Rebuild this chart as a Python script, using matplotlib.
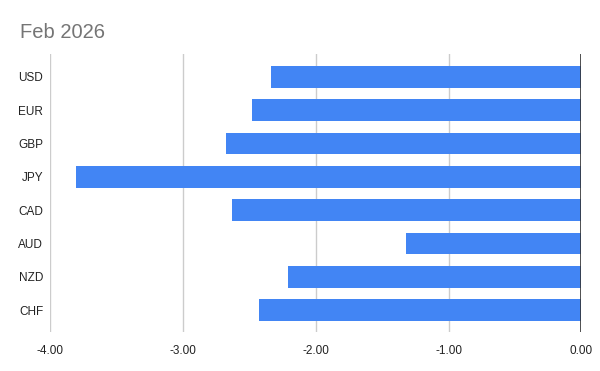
import matplotlib
matplotlib.use("Agg")
import matplotlib.pyplot as plt

currencies = ["USD", "EUR", "GBP", "JPY", "CAD", "AUD", "NZD", "CHF"]
values = [-2.34, -2.48, -2.68, -3.81, -2.63, -1.32, -2.21, -2.43]
xticks = [-4, -3, -2, -1, 0]

plt.rcParams['font.family'] = ['Liberation Sans', 'DejaVu Sans']

fig = plt.figure(figsize=(6, 3.71), dpi=100)
ax = fig.add_axes([0.0838, 0.1051, 0.969 - 0.0838, 0.8544 - 0.1051])

ypos = list(range(len(currencies)))
ax.barh(ypos, values, height=0.65, color='#4285F4', zorder=3)

ax.set_xlim(-4, 0)
ax.set_ylim(7.66, -0.69)
ax.set_xticks(xticks)
ax.set_xticklabels(["%.2f" % t for t in xticks])
ax.set_yticks(ypos)
ax.set_yticklabels(currencies)

ax.grid(axis='x', color='#cccccc', linewidth=1, zorder=0)
ax.axvline(0, color='#333333', linewidth=1.2, zorder=4)
for s in ax.spines.values():
    s.set_visible(False)
ax.tick_params(axis='both', length=0, labelsize=8.5, colors='#222222')
ax.tick_params(axis='x', pad=9)
ax.tick_params(axis='y', pad=5)

fig.text(20 / 600, 1 - 32 / 371, "Feb 2026", fontsize=14.5, color='#757575',
         va='center', ha='left')

fig.savefig("out.png", dpi=100)
